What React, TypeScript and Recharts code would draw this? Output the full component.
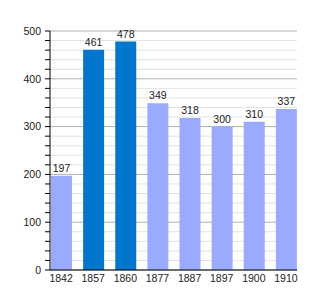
import { BarChart, Bar, XAxis, YAxis, CartesianGrid, LabelList, Cell } from "recharts";

const years = ["1842", "1857", "1860", "1877", "1887", "1897", "1900", "1910"];
const population = [197, 461, 478, 349, 318, 300, 310, 337];
const highlighted = [false, true, true, false, false, false, false, false];
const yTicks = [
  0, 20, 40, 60, 80, 100, 120, 140, 160, 180, 200, 220, 240, 260, 280, 300,
  320, 340, 360, 380, 400, 420, 440, 460, 480, 500,
];

const data = years.map((year, i) => ({ year, population: population[i] }));

const font = "'Liberation Sans', Arial, sans-serif";

const gridLine = (props: any) => {
  const { x1, x2, y1, y2, index } = props;
  const major = index % 5 === 0;
  return (
    <line
      key={`grid-${index}`}
      x1={x1}
      x2={x2}
      y1={y1}
      y2={y2}
      stroke={major ? "#b0b0b0" : "#e2e2e2"}
      strokeWidth={1}
    />
  );
};

export default function App() {
  return (
    <div style={{ position: "absolute", left: 0, top: 0 }}>
      <BarChart
        width={325}
        height={300}
        data={data}
        margin={{ top: 31, right: 28, left: 0, bottom: 0 }}
        barSize={21}
      >
        <CartesianGrid vertical={false} horizontal={gridLine} />
        <XAxis
          dataKey="year"
          height={30}
          padding={{ left: -5, right: -5 }}
          tickLine={false}
          tickSize={4}
          tickMargin={1}
          axisLine={{ stroke: "#000" }}
          tick={{ fill: "#222", fontSize: 10.5, fontFamily: font }}
        />
        <YAxis
          width={50}
          domain={[0, 500]}
          ticks={yTicks}
          interval={0}
          tickSize={5}
          tickMargin={4}
          axisLine={{ stroke: "#000" }}
          tickLine={{ stroke: "#000" }}
          tickFormatter={(v: number) => (v % 100 === 0 ? String(v) : "")}
          tick={{ fill: "#222", fontSize: 10.5, fontFamily: font }}
        />
        <Bar dataKey="population" isAnimationActive={false}>
          {data.map((d, i) => (
            <Cell key={d.year} fill={highlighted[i] ? "#0077cc" : "#99aaff"} />
          ))}
          <LabelList
            dataKey="population"
            position="top"
            offset={4}
            fill="#222"
            fontSize={10.5}
            fontFamily={font}
          />
        </Bar>
      </BarChart>
    </div>
  );
}
